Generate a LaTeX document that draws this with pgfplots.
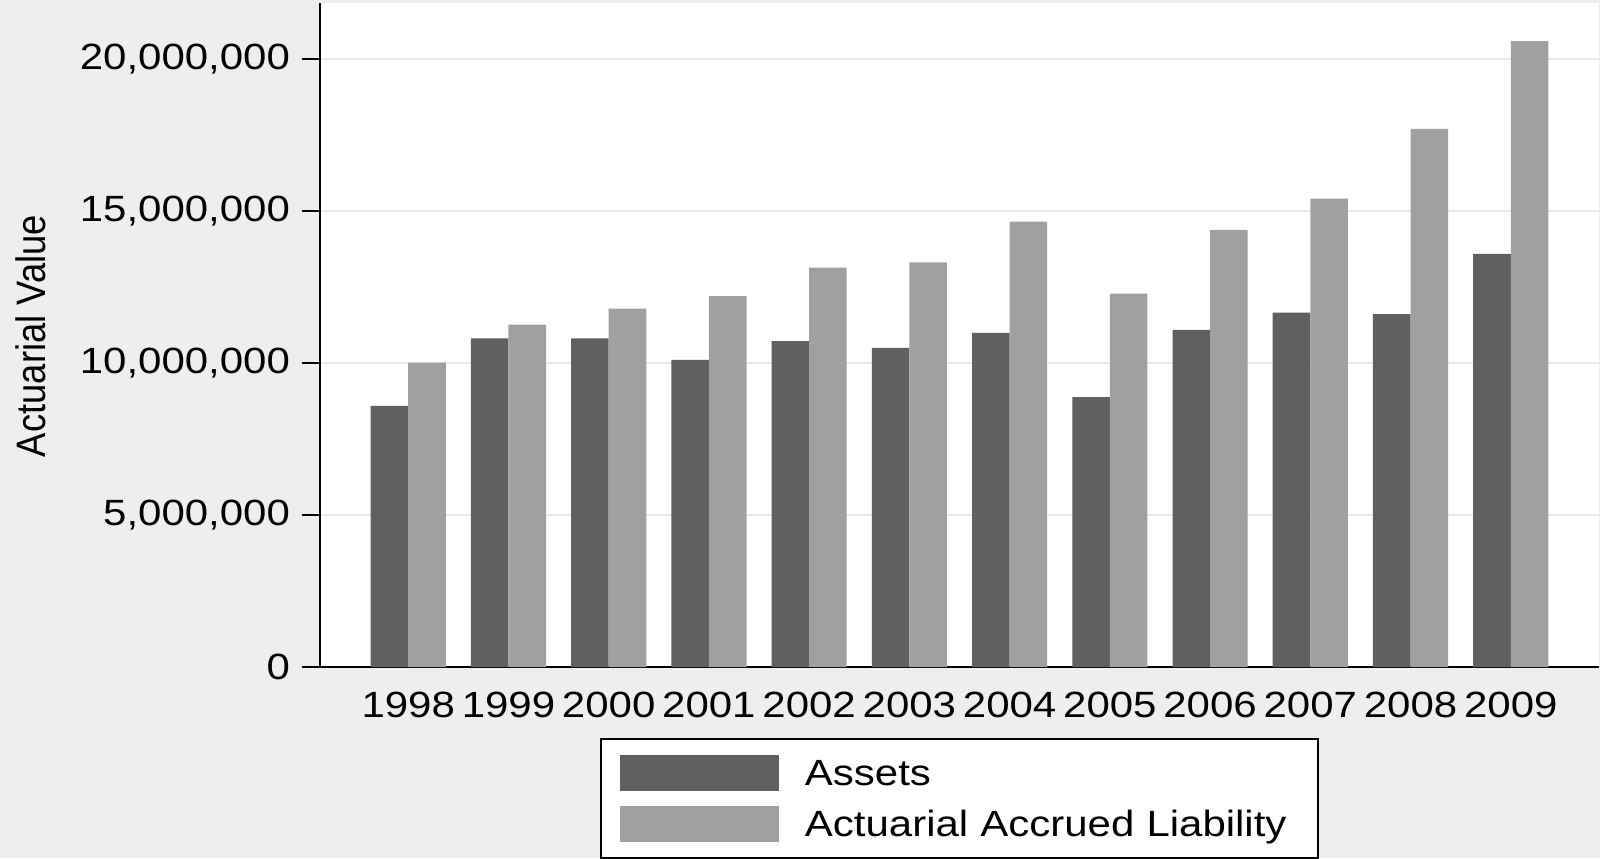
\documentclass[border=0pt]{standalone}
\usepackage{fontspec}
\setmainfont{Liberation Sans}[FakeStretch=1.15]
\newfontfamily\plainfont{Liberation Sans}
\usepackage{graphicx}
\usepackage{pgfplots}
\pgfplotsset{compat=1.18}
\usepackage{pgfplotstable}
\definecolor{bggray}{RGB}{238,238,238}
\definecolor{gridgray}{RGB}{232,232,232}
\definecolor{darkbar}{RGB}{96,96,96}
\definecolor{lightbar}{RGB}{160,160,160}
\newcommand\chartfont{\fontsize{18.25pt}{21pt}\selectfont}

\pgfplotstableread{
idx year assets aal
0 1998 8590000 10010000
1 1999 10810000 11260000
2 2000 10810000 11790000
3 2001 10100000 12200000
4 2002 10720000 13140000
5 2003 10500000 13310000
6 2004 10990000 14650000
7 2005 8880000 12280000
8 2006 11090000 14380000
9 2007 11660000 15410000
10 2008 11610000 17700000
11 2009 13590000 20590000
}\datatable

\begin{document}
\begin{tikzpicture}
\path[use as bounding box] (0,0) rectangle (800pt,429pt);
\fill[bggray] (0,0) rectangle (800pt,429pt);
\begin{axis}[
  at={(160pt,95.5pt)}, anchor=south west,
  scale only axis, width=639.5pt, height=332pt,
  xmin=-0.88, xmax=11.88, ymin=0, ymax=21842105,
  axis background/.style={fill=white},
  axis x line*=bottom, axis y line*=left,
  axis line style={-, black, line width=1.3pt},
  ybar,
  legend image code/.code={\fill[#1] (0pt,-9pt) rectangle (79.5pt,9pt);},
  xtick={0,1,2,3,4,5,6,7,8,9,10,11},
  xticklabels={1998,1999,2000,2001,2002,2003,2004,2005,2006,2007,2008,2009},
  xtick style={draw=none},
  ytick={0,5000000,10000000,15000000,20000000},
  yticklabels={0,{5,000,000},{10,000,000},{15,000,000},{20,000,000}},
  ytick style={black, line width=1pt},
  major tick length=9pt, tick align=outside,
  ymajorgrids, major grid style={gridgray, line width=1pt},
  tick label style={font=\chartfont},
  yticklabel style={anchor=east, xshift=-2.5pt},
  scaled y ticks=false,
  ylabel={\plainfont\fontsize{18.2pt}{21pt}\selectfont\scalebox{1}[1.13]{Actuarial Value}},
  every axis y label/.style={at={(axis description cs:-0.226,0.4985)}, rotate=90, anchor=center},
  legend cell align=left,
  legend style={at={(axis description cs:0.2189,-0.1069)}, anchor=north west,
    draw=black, line width=1pt, fill=white,
    inner xsep=9.5pt, inner ysep=8pt, row sep=7.5pt, font=\chartfont,
    nodes={inner sep=0pt, text height=13pt, text depth=0pt},
    /tikz/every odd column/.append style={column sep=13pt},
    /tikz/every even column/.append style={text width=247pt, align=left}},
]
\addplot[fill=darkbar, draw=none, bar width=0.375, bar shift=-0.1875] table[x=idx, y=assets] {\datatable};
\addplot[fill=lightbar, draw=none, bar width=0.375, bar shift=0.1875] table[x=idx, y=aal] {\datatable};
\legend{Assets, Actuarial Accrued Liability}
\end{axis}
\end{tikzpicture}
\end{document}
